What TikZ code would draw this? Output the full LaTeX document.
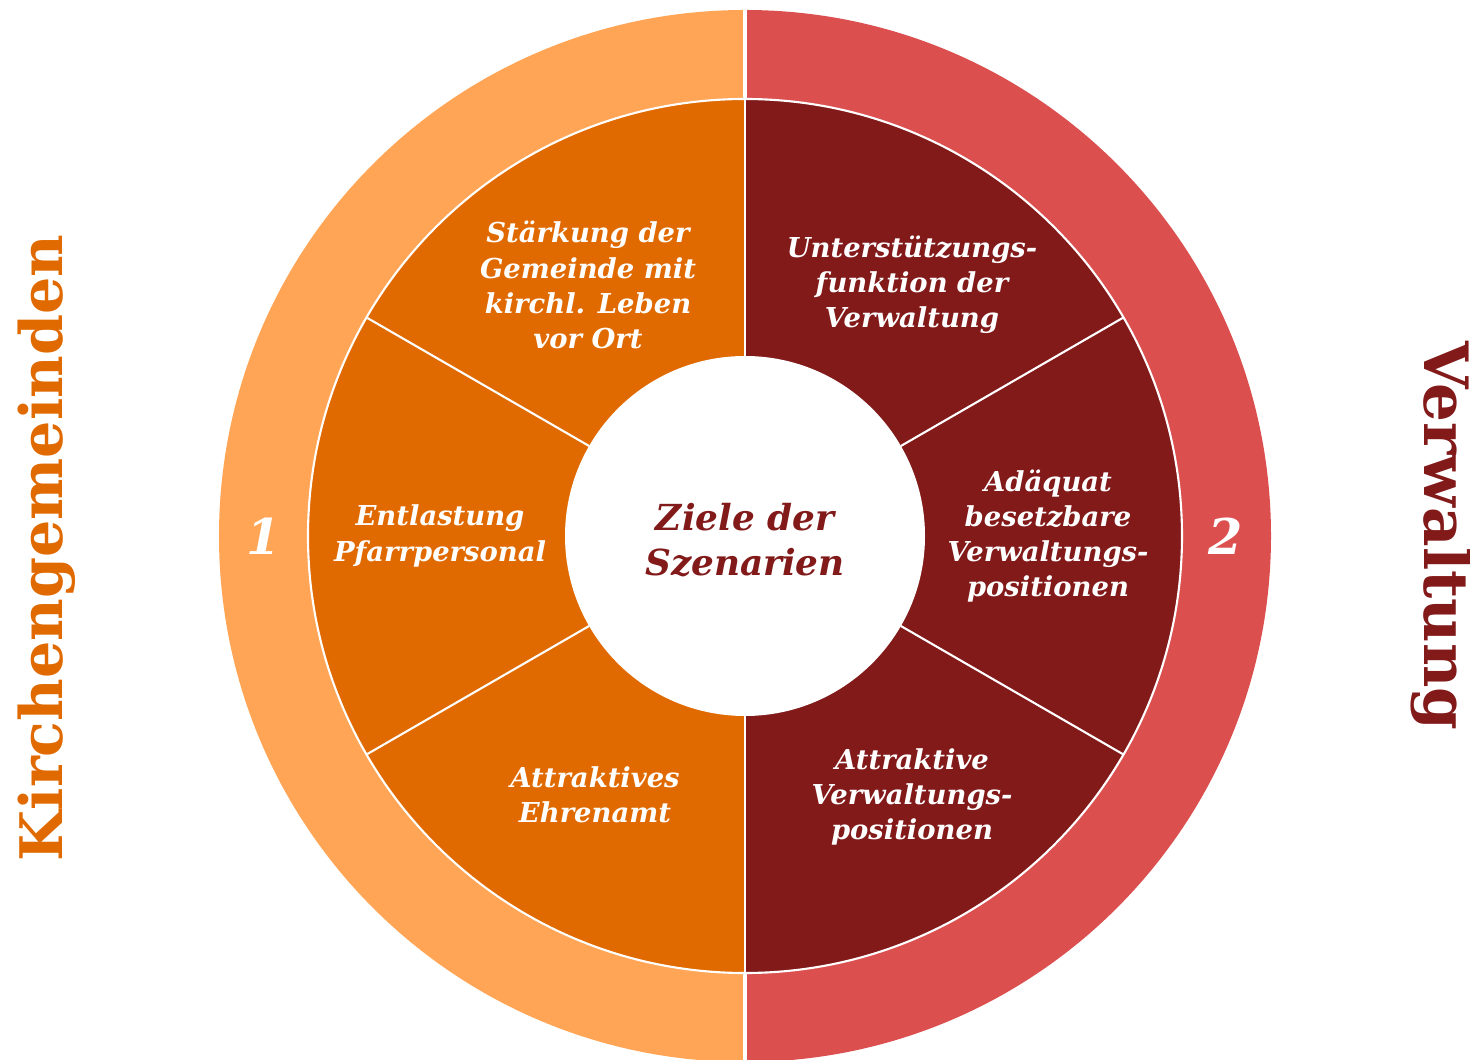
\documentclass[tikz,border=0pt]{standalone}
\usepackage{fontspec}
\setmainfont{DejaVu Serif}
\usetikzlibrary{positioning}

\definecolor{ringorange}{HTML}{FFA555}
\definecolor{feldorange}{HTML}{E06A00}
\definecolor{ringrot}{HTML}{DC4F4F}
\definecolor{feldrot}{HTML}{821A1A}

\begin{document}
\begin{tikzpicture}[
		declare function={
			ra=5.26; % outer ring
			rb=4.37; % fields
			rc=1.80; % centre
			rn=4.81; % numbers
		},
		line width=0.6pt,
		feld/.style={font=\bfseries\itshape\fontsize{7.8}{10}\selectfont, text=white, align=center},
		nummer/.style={font=\bfseries\itshape\fontsize{14}{16}\selectfont, text=white},
		seite/.style={font=\bfseries\fontsize{16.7}{20}\selectfont}
	]
	
	\useasboundingbox (-7.45,5.36) rectangle (7.25,-5.24);
	
	% outer ring
	\fill[ringorange] (0,ra) arc[start angle=90, end angle=270, radius=ra] -- cycle;
	\fill[ringrot] (0,-ra) arc[start angle=-90, end angle=90, radius=ra] -- cycle;
	\draw[white, line width=1pt] (0,ra) -- (0,-ra);
	
	% fields
	\fill[feldorange] (0,rb) arc[start angle=90, end angle=270, radius=rb] -- cycle;
	\fill[feldrot] (0,-rb) arc[start angle=-90, end angle=90, radius=rb] -- cycle;
	\draw[white] (0,0) circle (rb);
	\foreach \a in {30,90,...,330} {
		\draw[white] (\a:rc) -- (\a:rb);
	}
	\fill[white] (0,0) circle (rc);
	
	\path
	(-1.57, 2.51) coordinate (TL)
	(-3.05, 0.00) coordinate (L)
	(-1.50,-2.59) coordinate (BL)
	( 1.67, 2.51) coordinate (TR)
	( 3.03, 0.00) coordinate (R)
	( 1.67,-2.61) coordinate (BR)
	;
	
	\node[feld] (staerkung) at (TL) {Stärkung der\\Gemeinde mit\\kirchl. Leben\\vor Ort};
	\node[feld] (entlastung) at (L) {Entlastung\\Pfarrpersonal};
	\node[feld] (ehrenamt) at (BL) {Attraktives\\Ehrenamt};
	\node[feld] (unterstuetzung) at (TR) {Unterstützungs-\\funktion der\\Verwaltung};
	\node[feld] (adaequat) at (R) {Adäquat\\besetzbare\\Verwaltungs-\\positionen};
	\node[feld] (positionen) at (BR) {Attraktive\\Verwaltungs-\\positionen};
	
	\node[font=\bfseries\itshape\fontsize{10.2}{12.8}\selectfont, text=feldrot, align=center] (ziele) at (0,-0.04) {Ziele der\\Szenarien};
	
	\node[nummer] (eins) at (180:rn) {1};
	\node[nummer] (zwei) at (0:rn) {2};
	
	\node[seite, text=feldorange, rotate=90] (gemeinden) at (-6.98,-0.12) {Kirchengemeinden};
	\node[seite, font=\bfseries\fontsize{17.4}{20}\selectfont, text=feldrot, rotate=-90] (verwaltung) at (6.96,0.00) {Verwaltung};
	
\end{tikzpicture}
\end{document}
